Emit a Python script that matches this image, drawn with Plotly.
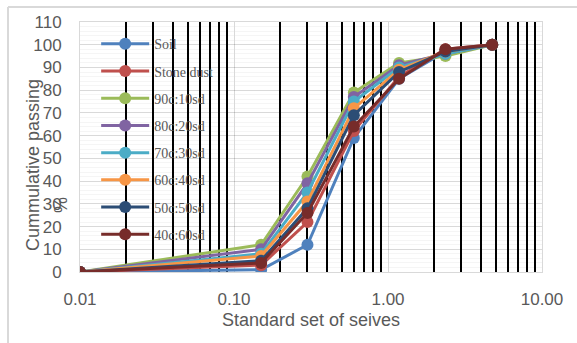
import plotly.graph_objects as go

sieves = [0.01, 0.15, 0.3, 0.6, 1.18, 2.36, 4.75]
names = ["Soil", "Stone dust", "90c:10sd", "80c:20sd", "70c:30sd", "60c:40sd", "50c:50sd", "40c:60sd"]
soil = [0, 1, 12, 59, 85, 97, 100]
stone_dust = [0, 3, 22, 62, 86, 98, 100]
c90_sd10 = [0, 12, 42, 79, 92, 95, 100]
c80_sd20 = [0, 10, 39, 77, 91, 96, 100]
c70_sd30 = [0, 8, 35, 75, 90, 96, 100]
c60_sd40 = [0, 7, 31, 72, 89, 97, 100]
c50_sd50 = [0, 5, 28, 69, 88, 97, 100]
c40_sd60 = [0, 4, 26, 64, 85, 98, 100]
series = [soil, stone_dust, c90_sd10, c80_sd20, c70_sd30, c60_sd40, c50_sd50, c40_sd60]
colors = ["#4F81BD", "#C0504D", "#9BBB59", "#8064A2", "#4BACC6", "#F79646", "#2C4D75", "#772C2A"]

fig = go.Figure()
for i, (n, vals, c) in enumerate(zip(names, series, colors)):
    fig.add_trace(go.Scatter(
        x=sieves, y=vals, name=n, mode="lines+markers",
        line=dict(color=c, width=3),
        marker=dict(color=c, size=12),
        legendgroup=f"g{i}",
    ))

minor_vals = [m * 10 ** d for d in (-2, -1, 0) for m in range(2, 10)]
grey = "#595959"
fig.update_layout(
    width=577, height=343,
    margin=dict(l=80, r=35, t=22, b=71),
    paper_bgcolor="white", plot_bgcolor="white",
    showlegend=True,
    legend=dict(
        x=0.035, y=0.975, xanchor="left", yanchor="top",
        bgcolor="rgba(0,0,0,0)",
        font=dict(family="Liberation Serif", size=14, color=grey),
        tracegroupgap=6, itemwidth=48,
    ),
    xaxis=dict(
        type="log", range=[-2, 1], automargin=False,
        tickvals=[0.01, 0.1, 1, 10], ticktext=["0.01", "0.10", "1.00", "10.00"],
        showgrid=True, gridcolor="#D9D9D9", gridwidth=1,
        minor=dict(tickvals=minor_vals, showgrid=True, gridcolor="black", gridwidth=2, griddash="solid"),
        showline=True, linecolor="#D9D9D9", mirror=True,
        ticks="", ticklabelstandoff=12,
        tickfont=dict(family="Liberation Sans", size=17, color=grey),
        title=dict(text="Standard set of seives", standoff=4,
                   font=dict(family="Liberation Sans", size=18, color=grey)),
        zeroline=False,
    ),
    yaxis=dict(
        range=[0, 110], dtick=10, automargin=False,
        showgrid=True, gridcolor="rgba(0,0,0,0.15)", gridwidth=1,
        minor=dict(dtick=2, showgrid=True, gridcolor="rgba(0,0,0,0.04)", gridwidth=1, griddash="solid"),
        showline=True, linecolor="#D9D9D9", mirror=True,
        ticks="", ticklabelstandoff=14,
        tickfont=dict(family="Liberation Sans", size=17, color=grey),
        zeroline=False,
    ),
    annotations=[
        dict(text="Cummulative passing", xref="paper", yref="paper",
             x=(33 - 80) / 462, y=(272 - 165) / 250, textangle=-90,
             showarrow=False, xanchor="center", yanchor="middle",
             font=dict(family="Liberation Sans", size=18, color=grey)),
        dict(text="%", xref="paper", yref="paper",
             x=(61 - 80) / 462, y=(272 - 205) / 250, textangle=-90,
             showarrow=False, xanchor="center", yanchor="middle",
             font=dict(family="Liberation Sans", size=18, color=grey)),
    ],
    shapes=[
        dict(type="line", xref="paper", yref="paper",
             x0=(8 - 80) / 462, x1=(577 - 80) / 462, y0=(272 - 7) / 250, y1=(272 - 7) / 250,
             line=dict(color="#D9D9D9", width=2)),
        dict(type="line", xref="paper", yref="paper",
             x0=(8 - 80) / 462, x1=(8 - 80) / 462, y0=(272 - 7) / 250, y1=(272 - 343) / 250,
             line=dict(color="#D9D9D9", width=2)),
    ],
)
fig.write_html("out.html", post_script="document.body.style.margin='0';",
               config={"displayModeBar": False})
